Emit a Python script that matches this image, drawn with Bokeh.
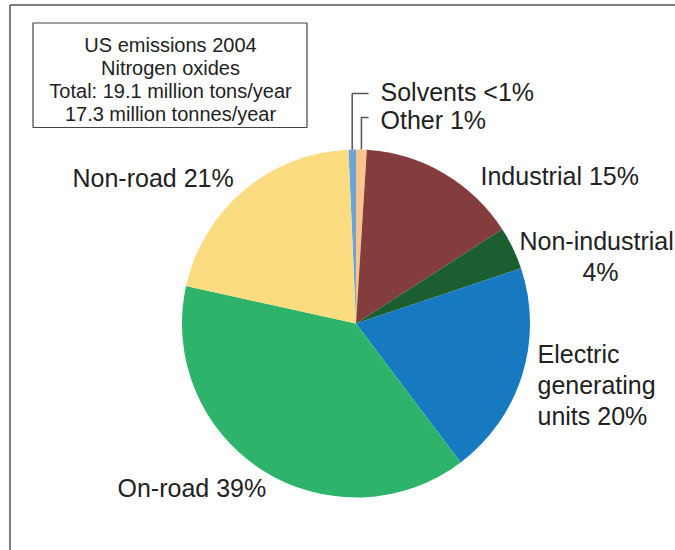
import math
from bokeh.plotting import figure
from bokeh.models import Range1d
from bokeh.embed import file_html
from bokeh.resources import INLINE
from bokeh.core.properties import value

# ---- data ----
categories = ["Solvents", "Other", "Industrial", "Non-industrial",
              "Electric generating units", "On-road", "Non-road"]
shares = [0.7, 1, 15, 4, 20, 39, 21]
colors = ["#6aa6d8", "#fbc48c", "#843d3d", "#1b5e30", "#1779c0", "#2eb46a", "#fcdc80"]
title_lines = ["US emissions 2004", "Nitrogen oxides",
               "Total: 19.1 million tons/year", "17.3 million tonnes/year"]
label_lines = {
    "Solvents": ["Solvents <1%"],
    "Other": ["Other 1%"],
    "Industrial": ["Industrial 15%"],
    "Non-industrial": ["Non-industrial", "4%"],
    "Electric generating units": ["Electric", "generating", "units 20%"],
    "On-road": ["On-road 39%"],
    "Non-road": ["Non-road 21%"],
}

# ---- layout (page pixel coordinates; y measured from top of window) ----
W, H = 675, 550
FONT = "Liberation Sans"
CX, CY, R = 355.5, 323, 174
label_pos = {  # x, y of first line, align
    "Solvents": (380, 91, "left"),
    "Other": (380, 119, "left"),
    "Industrial": (480, 175, "left"),
    "Non-industrial": (519, 240, "left"),
    "Electric generating units": (537, 353, "left"),
    "On-road": (117, 487, "left"),
    "Non-road": (72, 177, "left"),
}
sub_x = {"Non-industrial": 600}
line_step = {"Non-industrial": 31, "Electric generating units": 31}
leader_elbow = {"Solvents": 93, "Other": 117}
leader_end_x = 368


def Y(py):
    return H - py


p = figure(width=W, height=H, output_backend="svg", toolbar_location=None,
           x_range=Range1d(0, W), y_range=Range1d(0, H),
           min_border=0, outline_line_color=None)
p.axis.visible = False
p.grid.visible = False
p.background_fill_color = "white"
p.border_fill_color = "white"

# outer frame (left + top)
p.line(x=[9.5, 9.5], y=[Y(550), Y(4.5)], line_color="#555555", line_width=1.5)
p.line(x=[9.5, 675], y=[Y(4.5), Y(4.5)], line_color="#555555", line_width=1.5)

# pie
total = sum(shares)
theta = -shares[0] / total * 360.0  # clockwise from top
starts, ends, mids = [], [], []
for s in shares:
    t1 = theta + s / total * 360.0
    starts.append(math.radians(90 - theta))
    ends.append(math.radians(90 - t1))
    mids.append((theta + t1) / 2)
    theta = t1

p.wedge(x=[CX] * len(shares), y=[Y(CY)] * len(shares), radius=R,
        start_angle=starts, end_angle=ends, direction="clock",
        fill_color=colors, line_color=None)

# leader lines for small slices
for i, cat in enumerate(categories):
    if cat in leader_elbow:
        mx = CX + R * math.sin(math.radians(mids[i]))
        my = CY - R * math.cos(math.radians(mids[i]))
        ey = leader_elbow[cat]
        p.line(x=[mx, mx, leader_end_x], y=[Y(my), Y(ey), Y(ey)],
               line_color="#555555", line_width=1.5)

# labels
for cat in categories:
    x0, y0, al = label_pos[cat]
    step = line_step.get(cat, 30)
    lines = label_lines[cat]
    for k, ln in enumerate(lines):
        if k > 0 and cat in sub_x:
            xx, aa = sub_x[cat], "center"
        else:
            xx, aa = x0, al
        p.text(x=[xx], y=[Y(y0 + k * step)], text=[ln],
               text_font=value(FONT), text_font_size="25px",
               text_color="#222222", text_align=aa, text_baseline="middle")

# title box
p.quad(left=[32.5], right=[306.5], top=[Y(22.5)], bottom=[Y(127)],
       fill_color="white", line_color="#444444", line_width=1.2)
p.text(x=[170] * 4, y=[Y(44 + k * 23) for k in range(4)], text=title_lines,
       text_font=value(FONT), text_font_size="20px", text_color="#222222",
       text_align="center", text_baseline="middle")

open("out.html", "w").write(file_html(p, INLINE))
